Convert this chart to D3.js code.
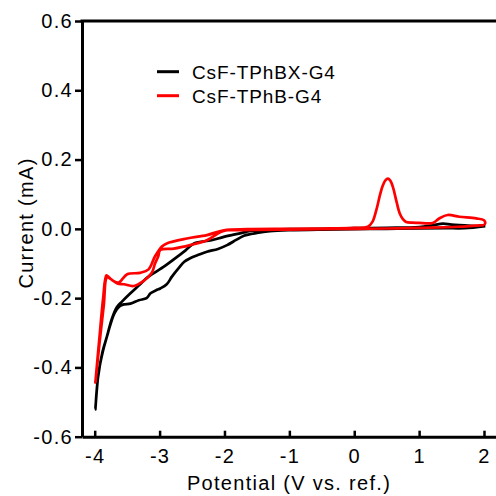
<!DOCTYPE html>
<html>
<head>
<meta charset="utf-8">
<script src="https://cdn.jsdelivr.net/npm/d3@7"></script>
<style>
  body { margin: 0; background: #fff; }
  svg text { font-family: "Liberation Sans", Arial, sans-serif; fill: #000; }
</style>
</head>
<body>
<div id="chart"></div>
<script>
// tick values
var xTicks = [-4, -3, -2, -1, 0, 1, 2];
var yTicks = [-0.6, -0.4, -0.2, 0.0, 0.2, 0.4, 0.6];

var seriesNames = ["CsF-TPhBX-G4", "CsF-TPhB-G4"];
var seriesColors = ["#000000", "#ff0000"];

// CsF-TPhBX-G4, [potential (V), current (mA)]
var bxScanNeg = [
  [2.02, 0.008], [1.7, 0.002], [1.4, 0.002], [1.0, 0.001], [0.5, 0.0], [0, -0.001],
  [-0.5, -0.002], [-1.0, -0.004], [-1.3, -0.007], [-1.5, -0.012], [-1.7, -0.02],
  [-1.82, -0.032], [-1.96, -0.047], [-2.1, -0.058], [-2.27, -0.066], [-2.4, -0.075],
  [-2.53, -0.085], [-2.62, -0.095], [-2.7, -0.112], [-2.81, -0.138], [-2.89, -0.16],
  [-2.99, -0.172], [-3.04, -0.176], [-3.14, -0.186], [-3.2, -0.2], [-3.32, -0.206],
  [-3.45, -0.216], [-3.55, -0.218], [-3.62, -0.224], [-3.69, -0.242], [-3.75, -0.271],
  [-3.81, -0.31], [-3.87, -0.35], [-3.94, -0.415], [-3.99, -0.521]
];
var bxScanPos = [
  [-3.99, -0.521], [-3.95, -0.43], [-3.88, -0.355], [-3.81, -0.31], [-3.74, -0.262],
  [-3.66, -0.226], [-3.58, -0.21], [-3.45, -0.186], [-3.3, -0.16], [-3.2, -0.142],
  [-3.04, -0.122], [-2.94, -0.11], [-2.73, -0.081], [-2.6, -0.062], [-2.47, -0.042],
  [-2.2, -0.033], [-2.01, -0.023], [-1.76, -0.013], [-1.6, -0.006], [-1.3, -0.003],
  [-1.0, -0.001], [-0.5, 0.0], [0, 0.002], [0.5, 0.003], [1.0, 0.005], [1.2, 0.01],
  [1.37, 0.015], [1.5, 0.012], [1.8, 0.009], [2.02, 0.008]
];

// CsF-TPhB-G4, [potential (V), current (mA)]
var bScanNeg = [
  [2.0, 0.011], [1.6, 0.006], [1.0, 0.003], [0.5, 0.001], [0, 0.0], [-0.5, -0.001],
  [-1.0, -0.002], [-1.5, -0.003], [-1.8, -0.004], [-1.96, -0.004], [-2.06, -0.009],
  [-2.27, -0.033], [-2.53, -0.047], [-2.78, -0.057], [-2.99, -0.061], [-3.02, -0.079],
  [-3.07, -0.1], [-3.12, -0.127], [-3.25, -0.151], [-3.4, -0.165], [-3.55, -0.16],
  [-3.65, -0.158], [-3.75, -0.145], [-3.81, -0.14], [-3.86, -0.22], [-3.92, -0.32],
  [-3.99, -0.444]
];
var bScanPos = [
  [-3.99, -0.444], [-3.93, -0.32], [-3.87, -0.2], [-3.82, -0.134], [-3.78, -0.14],
  [-3.71, -0.151], [-3.63, -0.155], [-3.5, -0.131], [-3.3, -0.127], [-3.17, -0.117],
  [-3.07, -0.079], [-2.96, -0.05], [-2.89, -0.042], [-2.58, -0.028], [-2.27, -0.018],
  [-2.01, -0.004], [-1.65, -0.001], [-1.0, 0.0], [-0.5, 0.001], [0, 0.003],
  [0.21, 0.006], [0.28, 0.02], [0.34, 0.054], [0.4, 0.1], [0.44, 0.125], [0.48, 0.14],
  [0.52, 0.145], [0.56, 0.138], [0.6, 0.118], [0.65, 0.08], [0.7, 0.045], [0.75, 0.028],
  [0.8, 0.02], [0.9, 0.018], [1.0, 0.017], [1.21, 0.017], [1.31, 0.03], [1.44, 0.04],
  [1.62, 0.035], [1.88, 0.03], [2.0, 0.025], [2.02, 0.017], [2.0, 0.011]
];

var width = 496;
var height = 496;

var svg = d3.select("#chart")
  .append("svg")
  .attr("width", width)
  .attr("height", height);

var x = d3.scaleLinear().domain([-4.196, 2.185]).range([82, 496]);
var y = d3.scaleLinear().domain([-0.6, 0.6]).range([436.7, 21]);

var line = d3.line()
  .x(function(d) { return x(d[0]); })
  .y(function(d) { return y(d[1]); })
  .curve(d3.curveCatmullRom.alpha(0.5));

var curves = [
  { color: seriesColors[0], pts: bxScanNeg.concat(bxScanPos.slice(1)) },
  { color: seriesColors[1], pts: bScanNeg.concat(bScanPos.slice(1)) }
];

svg.selectAll(".cv")
  .data(curves)
  .enter()
  .append("path")
  .attr("class", "cv")
  .attr("d", function(d) { return line(d.pts); })
  .attr("fill", "none")
  .attr("stroke", function(d) { return d.color; })
  .attr("stroke-width", 2.7)
  .attr("stroke-linejoin", "round");

// axes
var yAxis = svg.append("g")
  .attr("transform", "translate(82,0)")
  .call(d3.axisLeft(y).tickValues(yTicks).tickSize(7).tickSizeOuter(0).tickPadding(2)
    .tickFormat(function(d) { return d.toFixed(1); }));

var xAxis = svg.append("g")
  .attr("transform", "translate(0,436.7)")
  .call(d3.axisBottom(x).tickValues(xTicks).tickSize(-6).tickSizeOuter(0).tickPadding(12)
    .tickFormat(function(d) { return d; }));

[yAxis, xAxis].forEach(function(a) {
  a.select(".domain").attr("stroke", "#000").attr("stroke-width", 3);
  a.selectAll(".tick line").attr("stroke", "#000").attr("stroke-width", 2.5);
  a.selectAll(".tick text")
    .style("font-size", "20px")
    .style("letter-spacing", "1.3px")
    .attr("fill", "#000");
});

// top border
svg.append("line")
  .attr("x1", 80.5).attr("x2", 496)
  .attr("y1", 21).attr("y2", 21)
  .attr("stroke", "#000")
  .attr("stroke-width", 3);

// axis titles
svg.append("text")
  .attr("transform", "translate(33,223) rotate(-90)")
  .attr("text-anchor", "middle")
  .style("font-size", "20px")
  .style("letter-spacing", "1.3px")
  .text("Current (mA)");

svg.append("text")
  .attr("x", 289)
  .attr("y", 490)
  .attr("text-anchor", "middle")
  .style("font-size", "20px")
  .style("letter-spacing", "1.3px")
  .text("Potential (V vs. ref.)");

// legend
var legend = svg.selectAll(".legend")
  .data(seriesNames)
  .enter()
  .append("g")
  .attr("class", "legend")
  .attr("transform", function(d, i) { return "translate(157," + (71.7 + i * 24) + ")"; });

legend.append("line")
  .attr("x1", 0).attr("x2", 22)
  .attr("stroke", function(d, i) { return seriesColors[i]; })
  .attr("stroke-width", 3);

legend.append("text")
  .attr("x", 35)
  .attr("y", 7)
  .style("font-size", "19px")
  .style("letter-spacing", "0.9px")
  .text(function(d) { return d; });
</script>
</body>
</html>
